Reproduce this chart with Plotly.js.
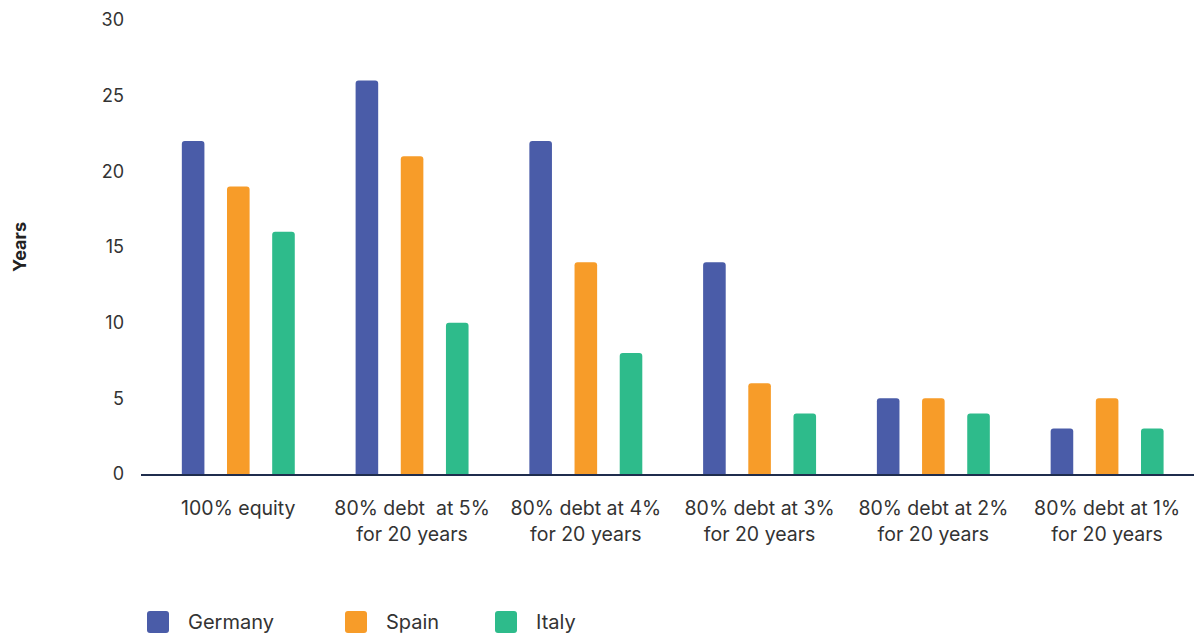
<!DOCTYPE html>
<html><head><meta charset="utf-8">
<script src="https://cdn.plot.ly/plotly-3.0.1.min.js"></script>
<style>html,body{margin:0;padding:0;background:#fff}#chart{width:1194px;height:633px}</style>
</head><body><div id="chart"></div>
<script>
const categories = ["100% equity", "80% debt  at 5%<br>for 20 years", "80% debt at 4%<br>for 20 years", "80% debt at 3%<br>for 20 years", "80% debt at 2%<br>for 20 years", "80% debt at 1%<br>for 20 years"];
const seriesNames = ["Germany", "Spain", "Italy"];
const germany = [22, 26, 22, 14, 5, 3];
const spain = [19, 21, 14, 6, 5, 5];
const italy = [16, 10, 8, 4, 4, 3];
const colors = ['#4a5ca8', '#f79c29', '#2ebb8b'];
const yTicks = [0, 5, 10, 15, 20, 25, 30];

const font = "Inter, 'Open Sans', sans-serif";
const W = 1194, H = 633, L = 141, R = 0, T = 20, B = 159;
const pw = W - L - R, ph = H - T - B;
const series = [germany, spain, italy];
const data = series.map((y, k) => ({
  type: 'bar', name: seriesNames[k], x: categories.map((c, i) => i), y,
  marker: {color: colors[k]}, hoverinfo: 'y'
}));

// custom legend (layout decoration, not data marks)
const legendX = [147, 345, 495];
const legendY = 622;
const shapes = [], annotations = [];
const sq = 'M3,-11 L19,-11 Q22,-11 22,-8 L22,8 Q22,11 19,11 L3,11 Q0,11 0,8 L0,-8 Q0,-11 3,-11 Z';
seriesNames.forEach((n, k) => {
  const xp = (legendX[k] - L) / pw;
  const yp = (H - B - legendY) / ph;
  shapes.push({type: 'path', xref: 'paper', yref: 'paper', xsizemode: 'pixel', ysizemode: 'pixel',
    xanchor: xp, yanchor: yp, path: sq,
    fillcolor: colors[k], line: {width: 0}});
  annotations.push({xref: 'paper', yref: 'paper', x: (legendX[k] + 39 - L) / pw, y: yp,
    xanchor: 'left', yanchor: 'middle', showarrow: false, text: n,
    font: {size: 20, color: '#333', family: font}});
});

const layout = {
  width: W, height: H,
  margin: {l: L, r: R, t: T, b: B},
  paper_bgcolor: '#fff', plot_bgcolor: '#fff',
  font: {family: font, color: '#333', size: 18},
  barmode: 'group', bargap: 0.22, bargroupgap: 0.5,
  barcornerradius: 3,
  showlegend: false,
  xaxis: {
    tickmode: 'array', tickvals: categories.map((c, i) => i), ticktext: categories,
    range: [-0.56, 5.5], showgrid: false, zeroline: false,
    showline: true, linecolor: '#1f2d4d', linewidth: 1.5,
    ticks: '', tickfont: {size: 19.5, color: '#333'}, ticklabelstandoff: 16
  },
  yaxis: {
    range: [0, 30], tickvals: yTicks, showgrid: false, zeroline: false, showline: false,
    ticks: '', tickfont: {size: 18, color: '#333'}, ticklabelstandoff: 16,
    title: {text: '<b>Years</b>', font: {size: 18, color: '#222'}, standoff: 70}
  },
  shapes, annotations
};
Plotly.newPlot('chart', data, layout, {displayModeBar: false});
</script></body></html>
